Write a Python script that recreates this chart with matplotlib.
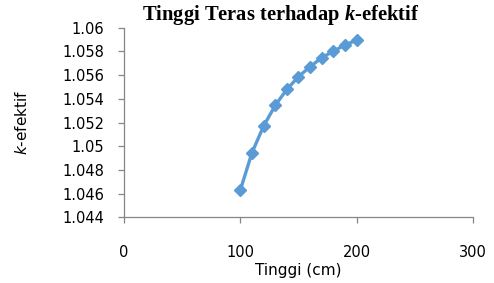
import matplotlib
matplotlib.use("Agg")
import matplotlib.pyplot as plt

tinggi = [100, 110, 120, 130, 140, 150, 160, 170, 180, 190, 200]
k_efektif = [1.0463, 1.04945, 1.0517, 1.05345, 1.0548, 1.05587, 1.05671, 1.05747, 1.05803, 1.05854, 1.05896]
x_ticks = [0, 100, 200, 300]
y_ticks = [1.044, 1.046, 1.048, 1.05, 1.052, 1.054, 1.056, 1.058, 1.06]
y_tick_labels = ["1.044", "1.046", "1.048", "1.05", "1.052", "1.054", "1.056", "1.058", "1.06"]

plt.rcParams['mathtext.fontset'] = 'custom'
plt.rcParams['mathtext.it'] = 'Liberation Serif:italic:bold'
plt.rcParams['mathtext.rm'] = 'Liberation Serif:bold'

fig = plt.figure(figsize=(4.94, 2.83), dpi=100)
ax = fig.add_axes([0.251, 0.232, 0.7065, 0.670])

ax.plot(tinggi, k_efektif, color='#5B9BD5', lw=2.4, marker='D', ms=6.5,
        markeredgecolor='#5B9BD5', markerfacecolor='#5B9BD5')

ax.set_xlim(0, 300)
ax.set_ylim(1.044, 1.06)
ax.set_xticks(x_ticks)
ax.set_xticklabels([str(v) for v in x_ticks])
ax.set_yticks(y_ticks)
ax.set_yticklabels(y_tick_labels)

for s in ['top', 'right']:
    ax.spines[s].set_visible(False)
for s in ['left', 'bottom']:
    ax.spines[s].set_color('#868686')
    ax.spines[s].set_linewidth(0.9)

ax.tick_params(axis='y', direction='out', length=4, width=0.9, color='#868686',
               pad=10, labelsize=10.5)
ax.tick_params(axis='x', direction='out', length=4, width=0.9, color='#868686',
               pad=16, labelsize=10.5)
for lbl in ax.get_xticklabels() + ax.get_yticklabels():
    lbl.set_fontfamily('DejaVu Sans')

ax.set_xlabel("Tinggi (cm)", fontsize=11, family='DejaVu Sans', labelpad=2)
fig.text(0.045, 0.567, r"$k$-efektif", rotation=90, ha='center', va='center',
         fontsize=11, family='DejaVu Sans',
         math_fontfamily='dejavusans')

fig.text(0.569, 0.948, r"Tinggi Teras terhadap $\mathit{k}$-efektif",
         ha='center', va='center', fontsize=14.8,
         family='Liberation Serif', weight='bold')

fig.savefig("out.png", dpi=100)
